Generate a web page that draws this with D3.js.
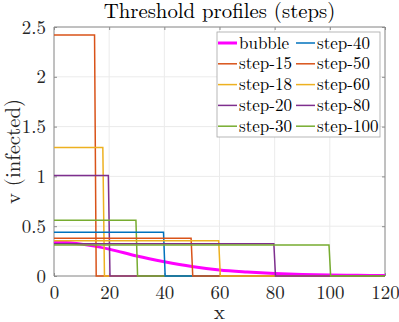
<!DOCTYPE html>
<html><head><meta charset="utf-8">
<script src="https://cdn.jsdelivr.net/npm/d3@7"></script>
<style>body{margin:0;background:#fff}svg{display:block}</style>
</head><body><svg id="c" width="399" height="322"></svg>
<script>
const stepNames = ["step-15","step-18","step-20","step-30","step-40","step-50","step-60","step-80","step-100"];
const stepWidths = [15,18,20,30,40,50,60,80,100];
const stepHeights = [2.42,1.29,1.01,0.56,0.44,0.38,0.355,0.325,0.31];
const stepColors = ["#D95319","#EDB120","#7E2F8E","#77AC30","#0072BD","#D95319","#EDB120","#7E2F8E","#77AC30"];
const bubbleX = [0,10,20,30,40,50,60,70,80,90,100,110,120];
const bubbleV = [0.343,0.32,0.27,0.2,0.143,0.095,0.06,0.04,0.025,0.015,0.01,0.007,0.005];
const xTicks = [0,20,40,60,80,100,120];
const yTicks = [0,0.5,1,1.5,2,2.5];

const FONT='"Latin Modern Roman","CMU Serif","Liberation Serif",serif';
const L=54,R=385,T=27,B=276;
const svg=d3.select("#c");
const x=d3.scaleLinear().domain([0,120]).range([L,R]);
const y=d3.scaleLinear().domain([0,2.5]).range([B,T]);

// grid
svg.append("g").selectAll("line").data(xTicks).join("line")
 .attr("x1",d=>x(d)).attr("x2",d=>x(d)).attr("y1",T).attr("y2",B).attr("stroke","#ebebeb").attr("stroke-width",1);
svg.append("g").selectAll("line").data(yTicks).join("line")
 .attr("y1",d=>y(d)).attr("y2",d=>y(d)).attr("x1",L).attr("x2",R).attr("stroke","#ebebeb").attr("stroke-width",1);

// axes lines
const ax=svg.append("g").attr("transform",`translate(0,${B})`).call(d3.axisBottom(x).tickValues(xTicks).tickSize(-3).tickPadding(10));
const ay=svg.append("g").attr("transform",`translate(${L},0)`).call(d3.axisLeft(y).tickValues(yTicks).tickSize(-3).tickPadding(8).tickFormat(d3.format("")));
const axT=svg.append("g").attr("transform",`translate(0,${T})`).call(d3.axisTop(x).tickValues(xTicks).tickSize(-3).tickFormat(""));
const ayR=svg.append("g").attr("transform",`translate(${R},0)`).call(d3.axisRight(y).tickValues(yTicks).tickSize(-3).tickFormat(""));
[ax,ay,axT,ayR].forEach(g=>{g.selectAll("path,line").attr("stroke","#8c8c8c");
  g.selectAll("text").style("font-size","18.9px").style("font-family",FONT).attr("fill","#262626");});
ax.select(".domain").attr("d",`M${L},0H${R}`);
axT.select(".domain").attr("d",`M${L},0H${R}`);
ay.select(".domain").attr("d",`M0,${T}V${B}`);
ayR.select(".domain").attr("d",`M0,${T}V${B}`);

// data
const g=svg.append("g");
const line=d3.line().x(d=>x(d[0])).y(d=>y(d[1]));
g.append("path").datum(bubbleX.map((v,i)=>[v,bubbleV[i]])).attr("d",d3.line().x(d=>x(d[0])).y(d=>y(d[1])).curve(d3.curveMonotoneX))
 .attr("fill","none").attr("stroke","#FF00FF").attr("stroke-width",3);
stepNames.forEach((n,i)=>{
  const w=stepWidths[i],h=stepHeights[i];
  const pts=[[0,h],[w-0.3,h],[w+0.3,0],[120,0]];
  g.append("path").datum(pts).attr("d",line).attr("fill","none").attr("stroke",stepColors[i]).attr("stroke-width",1.5);
});

const txt=(xx,yy,s,size,anchor)=>svg.append("text").attr("x",xx).attr("y",yy).attr("text-anchor",anchor||"middle")
  .style("font-family",FONT).style("font-size",size+"px").attr("fill","#262626").text(s);
txt((L+R)/2,17.5,"Threshold profiles (steps)",20.8).attr("fill","#000");
txt(x(60),318.5,"x",20.8);
txt(0,0,"v (infected)",20.8).attr("transform",`translate(20,${(T+B)/2}) rotate(-90)`);

// legend
const names=["bubble",...stepNames], cols=["#FF00FF",...stepColors], widths=[3,...stepNames.map(()=>1.5)];
const lg=svg.append("g");
lg.append("rect").attr("x",217).attr("y",32).attr("width",163).attr("height",105).attr("fill","#fff").attr("stroke","#a6a6a6").attr("stroke-width",0.8);
names.forEach((n,i)=>{
  const col=Math.floor(i/5), row=i%5;
  const x0=col?296:218, yy=43+row*20.8;
  lg.append("line").attr("x1",x0).attr("x2",x0+19).attr("y1",yy).attr("y2",yy).attr("stroke",cols[i]).attr("stroke-width",widths[i]);
  lg.append("text").attr("x",x0+21).attr("y",yy+5.5).style("font-family",FONT).style("font-size","17px").attr("fill","#000").text(n);
});
</script></body></html>
